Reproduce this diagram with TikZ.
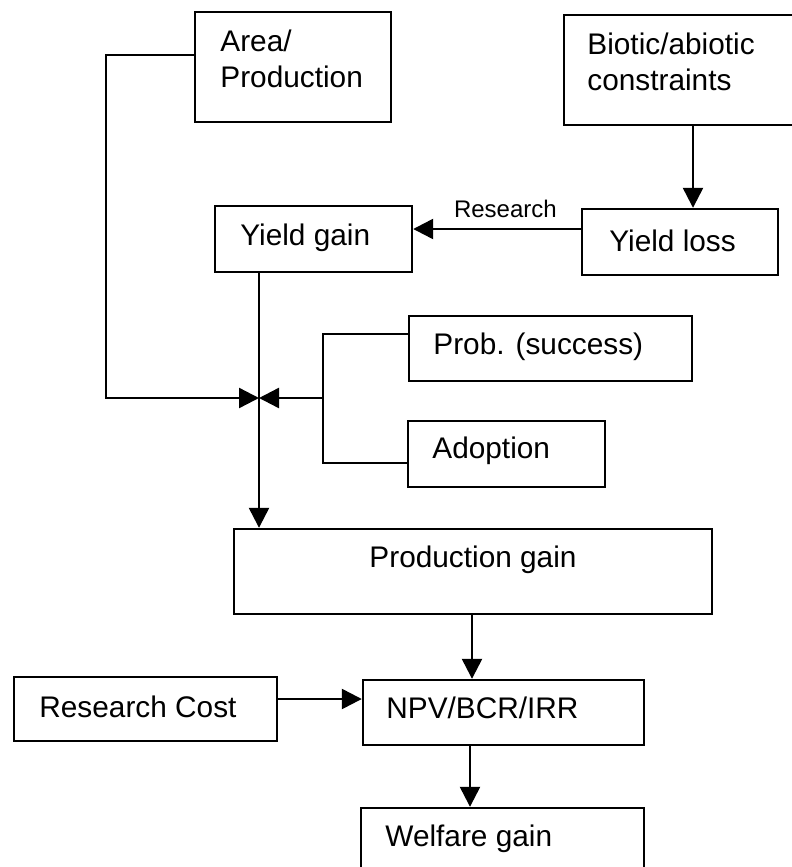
\documentclass[tikz,border=0pt]{standalone}
\usepackage{fontspec}
\setmainfont{Liberation Sans}
\usetikzlibrary{arrows.meta}
\tikzset{
  box/.style={draw, line width=1.2pt, rectangle, inner sep=0pt},
  txt/.style={font=\fontsize{14.9}{18}\selectfont, inner sep=0pt, anchor=west, align=left},
  flow/.style={line width=1.2pt, -{Triangle[length=10pt,width=10pt]}},
  link/.style={line width=1.2pt}
}
\begin{document}
\begin{tikzpicture}[x=0.5pt,y=-0.5pt]
\useasboundingbox (0,0) rectangle (792,867);
% boxes
\node[box, minimum width=98pt, minimum height=55pt] (area) at (293,67) {};
\node[box, minimum width=118pt, minimum height=55pt] (biotic) at (682,70) {};
\node[box, minimum width=98.5pt, minimum height=33pt] (ygain) at (313.5,239) {};
\node[box, minimum width=98pt, minimum height=33pt] (yloss) at (680,242) {};
\node[box, minimum width=141.5pt, minimum height=32.5pt] (prob) at (550.5,348.5) {};
\node[box, minimum width=98.5pt, minimum height=33pt] (adopt) at (506.5,454) {};
\node[box, minimum width=239pt, minimum height=42.5pt] (pgain) at (473,571.5) {};
\node[box, minimum width=131.5pt, minimum height=32pt] (rcost) at (145.5,709) {};
\node[box, minimum width=140.5pt, minimum height=32.5pt] (npv) at (503.5,712.5) {};
\node[box, minimum width=141.5pt, minimum height=40pt] (welfare) at (502.5,848) {};
% texts
\node[txt] (t-area) at (220,59) {Area/\\Production};
\node[txt] (t-biotic) at (587,62) {Biotic/abiotic\\constraints};
\node[txt] (t-ygain) at (240,238) {Yield gain};
\node[txt] (t-yloss) at (609,241) {Yield loss};
\node[txt] (t-prob) at (433,347) {Prob. (success)};
\node[txt] (t-adopt) at (432,451) {Adoption};
\node[txt, anchor=center] (t-pgain) at (473,560) {Production gain};
\node[txt] (t-rcost) at (39,707) {Research Cost};
\node[txt] (t-npv) at (386,708) {NPV/BCR/IRR};
\node[txt] (t-welfare) at (385,839) {Welfare gain};
% joints
\coordinate (mix) at (259,398);
\coordinate (left) at (106,55);
\coordinate (fork) at (323,398);
% connectors
\draw[flow] (area.west |- left) -- (left) |- (mix);
\draw[link] (prob.west |- 0,334) -| (fork) |- (adopt.west |- 0,463);
\draw[flow] (fork) -- (mix);
\draw[flow] (ygain.south -| mix) -- (pgain.north -| mix);
\draw[flow] (biotic.south -| 693,0) -- (yloss.north -| 693,0);
\draw[flow] (yloss.west |- 0,229) -- node[pos=0.45, above=5pt, inner sep=0pt, font=\fontsize{12}{14}\selectfont] {Research} (ygain.east |- 0,229);
\draw[flow] (pgain.south -| 472,0) -- (npv.north -| 472,0);
\draw[flow] (rcost.east |- 0,699) -- (npv.west |- 0,699);
\draw[flow] (npv.south -| 470,0) -- (welfare.north -| 470,0);
\end{tikzpicture}
\end{document}
